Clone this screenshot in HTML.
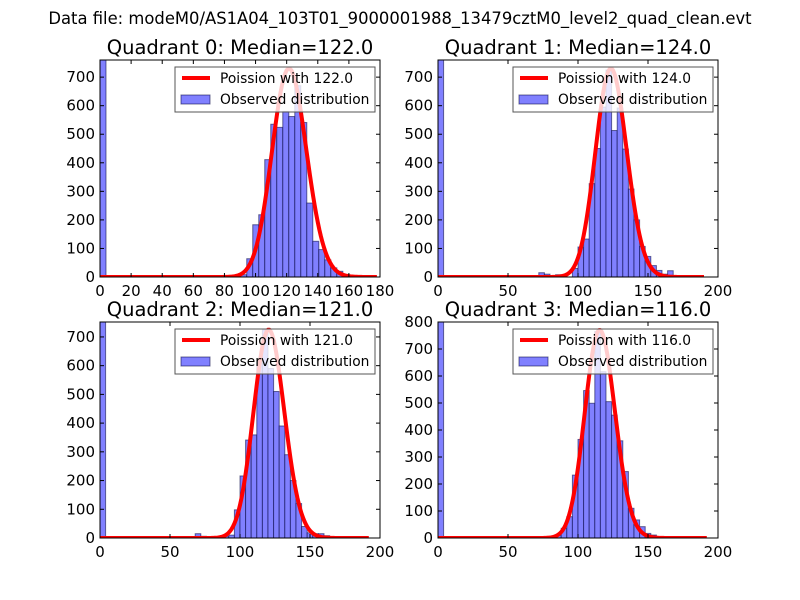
<!DOCTYPE html>
<html><head><meta charset="utf-8"><style>
body{margin:0;background:#fff;}
svg{display:block;font-family:"DejaVu Sans","Liberation Sans",sans-serif;}
</style></head><body>
<svg id="fig" width="800" height="600" viewBox="0 0 800 600">
<rect width="800" height="600" fill="#fff"/>
<text x="400" y="24" font-size="16.4" text-anchor="middle">Data file: modeM0/AS1A04_103T01_9000001988_13479cztM0_level2_quad_clean.evt</text>
</svg>
<script>
// ---- data ----
const quadrants = [0, 1, 2, 3];
const medians = [122.0, 124.0, 121.0, 116.0];
const binWidths = [3.86, 4, 4, 4];
const binOrigins = [1.7, 0, 0, 0];
const xMaxes = [180, 200, 200, 200];
const yMaxes = [760, 760, 752, 800];
const xTickLabels0 = [0, 20, 40, 60, 80, 100, 120, 140, 160, 180];
const xTickLabels = [0, 50, 100, 150, 200];
const yTickLabels = [0, 100, 200, 300, 400, 500, 600, 700];
const yTickLabels3 = [0, 100, 200, 300, 400, 500, 600, 700, 800];
const curvePeaks = [730, 730, 725, 770];
const curveEnds = [178, 190, 192, 192];
// counts per bin index (sparse: [index, count])
const counts0 = [[-0.44,765],[18,2],[20,3],[21,4],[22,5],[23,8],[24,64],[25,183],[26,218],[27,411],[28,535],[29,524],[30,580],[31,562],[32,670],[33,541],[34,259],[35,125],[36,96],[37,60],[38,32],[39,20],[40,8],[41,4]];
const counts1 = [[0,765],[18,15],[19,10],[21,8],[24,30],[25,105],[26,133],[27,327],[28,450],[29,595],[30,725],[31,513],[32,592],[33,448],[34,308],[35,200],[36,107],[37,72],[38,40],[39,23],[40,10],[41,22]];
const counts2 = [[0,755],[15,5],[17,15],[18,6],[21,4],[22,6],[23,10],[24,98],[25,216],[26,341],[27,359],[28,610],[29,725],[30,590],[31,510],[32,390],[33,290],[34,200],[35,120],[36,40],[37,18],[38,15],[39,15],[40,8],[41,2]];
const counts3 = [[0,805],[18,5],[20,5],[21,10],[22,36],[23,79],[24,233],[25,365],[26,546],[27,499],[28,765],[29,616],[30,505],[31,455],[32,360],[33,246],[34,110],[35,67],[36,42],[37,17],[38,11]];
const allCounts = [counts0, counts1, counts2, counts3];

const boxes = [{x:100,y:60,w:280,h:217},{x:438,y:60,w:280,h:217},{x:100,y:322,w:280,h:216},{x:438,y:322,w:280,h:216}];
const NS = "http://www.w3.org/2000/svg";
const svg = document.getElementById('fig');
function mk(tag, attrs, parent){const e=document.createElementNS(NS,tag);for(const k in attrs)e.setAttribute(k,attrs[k]);(parent||svg).appendChild(e);return e;}
function lgamma(z){let s=0;while(z<7){s-=Math.log(z);z+=1;}const z2=1/(z*z);return s+(z-0.5)*Math.log(z)-z+0.9189385332+(1/12-z2*(1/360-z2/1260))/z;}
function logpmf(k,l){return k*Math.log(l)-l-lgamma(k+1);}

quadrants.forEach((q,i)=>{
  const b=boxes[i];
  const g=mk('g',{});
  
  
  const xs=v=>b.x+v/xMaxes[i]*b.w;
  const ys=v=>b.y+b.h-Math.min(v,yMaxes[i])/yMaxes[i]*b.h;
  const clipId='clip'+i;
  const cp=mk('clipPath',{id:clipId},g);mk('rect',{x:b.x,y:b.y,width:b.w,height:b.h},cp);
  const plot=mk('g',{'clip-path':'url(#'+clipId+')'},g);
  allCounts[i].forEach(([idx,c])=>{
    const x0=binOrigins[i]+idx*binWidths[i];
    const r=mk('rect',{x:xs(x0),y:ys(c),width:xs(binWidths[i])-xs(0),height:ys(0)-ys(c),fill:'rgb(128,128,255)',stroke:'rgba(0,0,64,0.55)','stroke-width':1},plot);
    
    
  });
  const lam=medians[i];const mode=Math.floor(lam);const lm=logpmf(mode,lam);
  let d='';
  for(let k=0;k<=curveEnds[i];k++){const v=curvePeaks[i]*Math.exp(logpmf(k,lam)-lm);d+=(k?'L':'M')+xs(k).toFixed(2)+','+ys(v).toFixed(2);}
  const p=mk('path',{d:d,fill:'none',stroke:'#ff0000','stroke-width':4,'stroke-linejoin':'round'},plot);
  
  
  const fr=mk('rect',{x:b.x,y:b.y,width:b.w,height:b.h,fill:'none',stroke:'#000','stroke-width':1},g);
  
  
  const xt = i===0 ? xTickLabels0 : xTickLabels;
  xt.forEach(t=>{const x=xs(t);mk('line',{x1:x,y1:b.y+b.h,x2:x,y2:b.y+b.h-4,stroke:'#000'},g);mk('line',{x1:x,y1:b.y,x2:x,y2:b.y+4,stroke:'#000'},g);
    const tx=mk('text',{x:x,y:b.y+b.h+19,'font-size':15,'text-anchor':'middle'},g);tx.textContent=t;
    
    });
  const yt = i===3 ? yTickLabels3 : yTickLabels;
  yt.forEach(t=>{const y=ys(t);mk('line',{x1:b.x,y1:y,x2:b.x+4,y2:y,stroke:'#000'},g);mk('line',{x1:b.x+b.w,y1:y,x2:b.x+b.w-4,y2:y,stroke:'#000'},g);
    const ty=mk('text',{x:b.x-5,y:y+5,'font-size':15,'text-anchor':'end'},g);ty.textContent=t;
    
    });
  const ti=mk('text',{x:b.x+b.w/2,y:b.y-6,'font-size':19.5,'text-anchor':'middle'},g);
  ti.textContent='Quadrant '+q+': Median='+medians[i].toFixed(1);
  
  
  const lg=mk('g',{},g);
  
  
  const lx=b.x+75, ly=b.y+7;
  mk('rect',{x:lx,y:ly,width:200,height:45,fill:'rgba(255,255,255,0.8)',stroke:'#555','stroke-width':1},lg);
  mk('line',{x1:lx+7,y1:ly+11,x2:lx+35,y2:ly+11,stroke:'#ff0000','stroke-width':4},lg);
  const t1=mk('text',{x:lx+45,y:ly+16,'font-size':13.8},lg);t1.textContent='Poission with '+medians[i].toFixed(1);
  
  
  mk('rect',{x:lx+6,y:ly+28,width:29,height:9,fill:'rgb(128,128,255)',stroke:'rgba(0,0,64,0.55)'},lg);
  const t2=mk('text',{x:lx+45,y:ly+37,'font-size':13.8},lg);t2.textContent='Observed distribution';
  
  
});
</script>
</body></html>
